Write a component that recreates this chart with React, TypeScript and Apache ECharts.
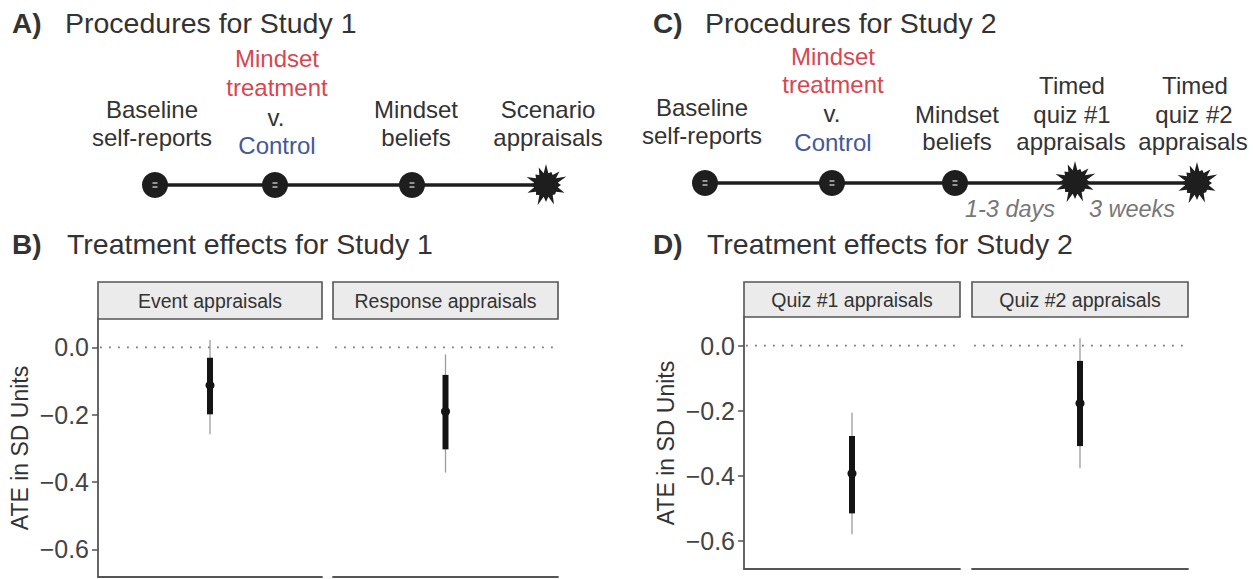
import React, { useEffect, useRef } from 'react';
import * as echarts from 'echarts';

// ---------- data ----------
const yTicks = [-0.6, -0.4, -0.2, 0];

const study1Facets = ['Event appraisals', 'Response appraisals'];
const study1Mean = [-0.113, -0.191];
const study1Lo = [-0.199, -0.303];
const study1Hi = [-0.031, -0.082];
const study1Lo95 = [-0.258, -0.372];
const study1Hi95 = [0.022, -0.021];

const study2Facets = ['Quiz #1 appraisals', 'Quiz #2 appraisals'];
const study2Mean = [-0.393, -0.177];
const study2Lo = [-0.516, -0.309];
const study2Hi = [-0.278, -0.047];
const study2Lo95 = [-0.58, -0.377];
const study2Hi95 = [-0.206, 0.023];

const yAxisTitle = 'ATE in SD Units';
const panelTitles = ['Procedures for Study 1', 'Treatment effects for Study 1', 'Procedures for Study 2', 'Treatment effects for Study 2'];
const panelLetters = ['A)', 'B)', 'C)', 'D)'];

// ---------- styling ----------
const FONT = '"Liberation Sans", Arial, Helvetica, sans-serif';
const TXT = '#333333';
const RED = '#d9464f';
const BLUE = '#44579c';
const DARK = '#1e1e1e';

const txt = (x: number, y: number, text: string, o: any = {}) => ({
  type: 'text',
  x,
  y,
  silent: true,
  style: {
    text,
    fill: o.fill || TXT,
    fontSize: o.fontSize || 24,
    fontFamily: FONT,
    fontWeight: o.fontWeight || 'normal',
    fontStyle: o.fontStyle || 'normal',
    align: o.align || 'center',
    verticalAlign: 'middle',
  },
});

const dot = (cx: number, cy: number) => [
  { type: 'circle', silent: true, shape: { cx, cy, r: 13 }, style: { fill: DARK } },
  { type: 'line', silent: true, shape: { x1: cx - 2.5, y1: cy - 2, x2: cx + 2.5, y2: cy - 2 }, style: { stroke: '#bdbdbd', lineWidth: 1.5 } },
  { type: 'line', silent: true, shape: { x1: cx - 2.5, y1: cy + 2, x2: cx + 2.5, y2: cy + 2 }, style: { stroke: '#bdbdbd', lineWidth: 1.5 } },
];

const starRadii = [21, 14, 19, 22, 15, 20, 13, 21, 17, 22, 14, 20, 16, 21, 15, 19];
const star = (cx: number, cy: number) => {
  const pts: number[][] = [];
  const n = starRadii.length;
  for (let i = 0; i < n; i++) {
    const a = (i / n) * Math.PI * 2 - Math.PI / 2;
    pts.push([cx + Math.cos(a) * starRadii[i], cy + Math.sin(a) * starRadii[i]]);
    const b = ((i + 0.5) / n) * Math.PI * 2 - Math.PI / 2;
    pts.push([cx + Math.cos(b) * 12, cy + Math.sin(b) * 12]);
  }
  return { type: 'polygon', silent: true, shape: { points: pts }, style: { fill: DARK } };
};

const hline = (x1: number, x2: number, y: number) => ({
  type: 'line', silent: true, shape: { x1, y1: y, x2, y2: y }, style: { stroke: DARK, lineWidth: 3.5 },
});

const strip = (x: number, y: number, w: number, h: number, label: string) => [
  { type: 'rect', silent: true, shape: { x, y, width: w, height: h }, style: { fill: '#ebebeb', stroke: '#555555', lineWidth: 1.6 } },
  txt(x + w / 2, y + h / 2, label, { fontSize: 19.5 }),
];

const fmt = (v: number) => (Math.abs(v) < 1e-9 ? '0.0' : (v < 0 ? '\u2212' : '') + Math.abs(v).toFixed(1));

export default function App() {
  const ref = useRef<HTMLDivElement>(null);
  useEffect(() => {
    if (!ref.current) return;
    const chart = echarts.init(ref.current, undefined, { renderer: 'svg' });

    const grids = [
      { left: 98, top: 319, width: 224, height: 258 },
      { left: 333, top: 319, width: 225, height: 258 },
      { left: 744, top: 317, width: 216, height: 252 },
      { left: 972, top: 317, width: 216, height: 252 },
    ];
    const facets = [study1Facets[0], study1Facets[1], study2Facets[0], study2Facets[1]];
    const ranges = [
      [-0.682, 0.084],
      [-0.682, 0.084],
      [-0.687, 0.088],
      [-0.687, 0.088],
    ];

    const xAxis = grids.map((_, i) => ({
      type: 'category',
      gridIndex: i,
      data: [facets[i]],
      boundaryGap: true,
      axisLine: { show: true, onZero: false, lineStyle: { color: '#555555', width: 1.8 } },
      axisTick: { show: false },
      axisLabel: { show: false },
      splitLine: { show: false },
    }));

    const yAxis = grids.map((_, i) => {
      const shown = i % 2 === 0;
      return {
        type: 'value',
        gridIndex: i,
        min: ranges[i][0],
        max: ranges[i][1],
        show: shown,
        name: shown ? yAxisTitle : '',
        nameLocation: 'middle',
        nameGap: 67,
        nameTextStyle: { fontSize: 23, color: TXT, fontFamily: FONT },
        axisLine: { show: shown, onZero: false, lineStyle: { color: '#555555', width: 1.8 } },
        axisTick: { show: shown, length: 6, customValues: yTicks, lineStyle: { color: '#555555', width: 1.5 } },
        axisLabel: {
          show: shown,
          customValues: yTicks,
          formatter: fmt,
          fontSize: 25,
          color: '#444444',
          fontFamily: FONT,
          margin: 9,
        },
        splitLine: { show: false },
      };
    });

    const rows = [
      [study1Mean[0], study1Lo95[0], study1Hi95[0], study1Lo[0], study1Hi[0]],
      [study1Mean[1], study1Lo95[1], study1Hi95[1], study1Lo[1], study1Hi[1]],
      [study2Mean[0], study2Lo95[0], study2Hi95[0], study2Lo[0], study2Hi[0]],
      [study2Mean[1], study2Lo95[1], study2Hi95[1], study2Lo[1], study2Hi[1]],
    ];

    const series = rows.map((r, i) => ({
      type: 'custom',
      xAxisIndex: i,
      yAxisIndex: i,
      data: [[0, ...r]],
      encode: { x: 0, y: [1, 2, 3, 4, 5] },
      clip: false,
      renderItem: (params: any, api: any) => {
        const cs = params.coordSys;
        const x = api.value(0);
        const zero = api.coord([x, 0]);
        const m = api.coord([x, api.value(1)]);
        const a95 = api.coord([x, api.value(2)]);
        const b95 = api.coord([x, api.value(3)]);
        const a = api.coord([x, api.value(4)]);
        const b = api.coord([x, api.value(5)]);
        return {
          type: 'group',
          children: [
            {
              type: 'line',
              shape: { x1: cs.x + 2, y1: zero[1], x2: cs.x + cs.width, y2: zero[1] },
              style: { stroke: '#7a7a7a', lineWidth: 1.8, lineDash: [1.8, 7.2] },
            },
            { type: 'line', shape: { x1: a95[0], y1: a95[1], x2: b95[0], y2: b95[1] }, style: { stroke: '#9c9c9c', lineWidth: 1.3 } },
            { type: 'line', shape: { x1: a[0], y1: a[1], x2: b[0], y2: b[1] }, style: { stroke: '#141414', lineWidth: 6 } },
            { type: 'circle', shape: { cx: m[0], cy: m[1], r: 4.5 }, style: { fill: '#141414' } },
          ],
        };
      },
      z: 3,
    }));

    const graphic: any[] = [
      // Panel A
      txt(12, 23, panelLetters[0], { fontWeight: 'bold', fontSize: 28, align: 'left' }),
      txt(65, 23, panelTitles[0], { fontSize: 28.5, align: 'left' }),
      hline(155, 546, 185),
      ...dot(155, 185),
      ...dot(275, 185),
      ...dot(412, 185),
      star(546, 185),
      txt(152, 109, 'Baseline'),
      txt(152, 137, 'self-reports'),
      txt(277, 58, 'Mindset', { fill: RED }),
      txt(277, 87, 'treatment', { fill: RED }),
      txt(276, 117, 'v.'),
      txt(277, 145, 'Control', { fill: BLUE }),
      txt(416, 109, 'Mindset'),
      txt(416, 137, 'beliefs'),
      txt(548, 109, 'Scenario'),
      txt(548, 137, 'appraisals'),

      // Panel C
      txt(653, 23, panelLetters[2], { fontWeight: 'bold', fontSize: 28, align: 'left' }),
      txt(705, 23, panelTitles[2], { fontSize: 28.5, align: 'left' }),
      hline(705, 1197, 183),
      ...dot(705, 183),
      ...dot(832, 183),
      ...dot(955, 183),
      star(1075, 182),
      star(1197, 183),
      txt(702, 107, 'Baseline'),
      txt(702, 135, 'self-reports'),
      txt(833, 56, 'Mindset', { fill: RED }),
      txt(833, 84, 'treatment', { fill: RED }),
      txt(832, 113, 'v.'),
      txt(833, 142, 'Control', { fill: BLUE }),
      txt(957, 114, 'Mindset'),
      txt(957, 141, 'beliefs'),
      txt(1072, 85, 'Timed'),
      txt(1072, 114, 'quiz #1'),
      txt(1071, 141, 'appraisals'),
      txt(1195, 85, 'Timed'),
      txt(1194, 114, 'quiz #2'),
      txt(1193, 141, 'appraisals'),
      txt(1010, 209, '1-3 days', { fontStyle: 'italic', fill: '#777777', fontSize: 23.5 }),
      txt(1132, 209, '3 weeks', { fontStyle: 'italic', fill: '#777777', fontSize: 23.5 }),

      // Panel B
      txt(12, 244, panelLetters[1], { fontWeight: 'bold', fontSize: 28, align: 'left' }),
      txt(67, 244, panelTitles[1], { fontSize: 28.5, align: 'left' }),
      ...strip(98, 282, 224, 37, study1Facets[0]),
      ...strip(333, 282, 225, 37, study1Facets[1]),

      // Panel D
      txt(653, 244, panelLetters[3], { fontWeight: 'bold', fontSize: 28, align: 'left' }),
      txt(707, 244, panelTitles[3], { fontSize: 28.5, align: 'left' }),
      ...strip(744, 282, 216, 35, study2Facets[0]),
      ...strip(972, 282, 216, 35, study2Facets[1]),
    ];

    chart.setOption({
      animation: false,
      backgroundColor: '#ffffff',
      textStyle: { fontFamily: FONT },
      grid: grids.map((g) => ({ ...g, containLabel: false })),
      xAxis,
      yAxis,
      series,
      graphic,
    });

    return () => chart.dispose();
  }, []);

  return <div ref={ref} style={{ position: 'fixed', left: 0, top: 0, width: 1253, height: 579 }} />;
}
